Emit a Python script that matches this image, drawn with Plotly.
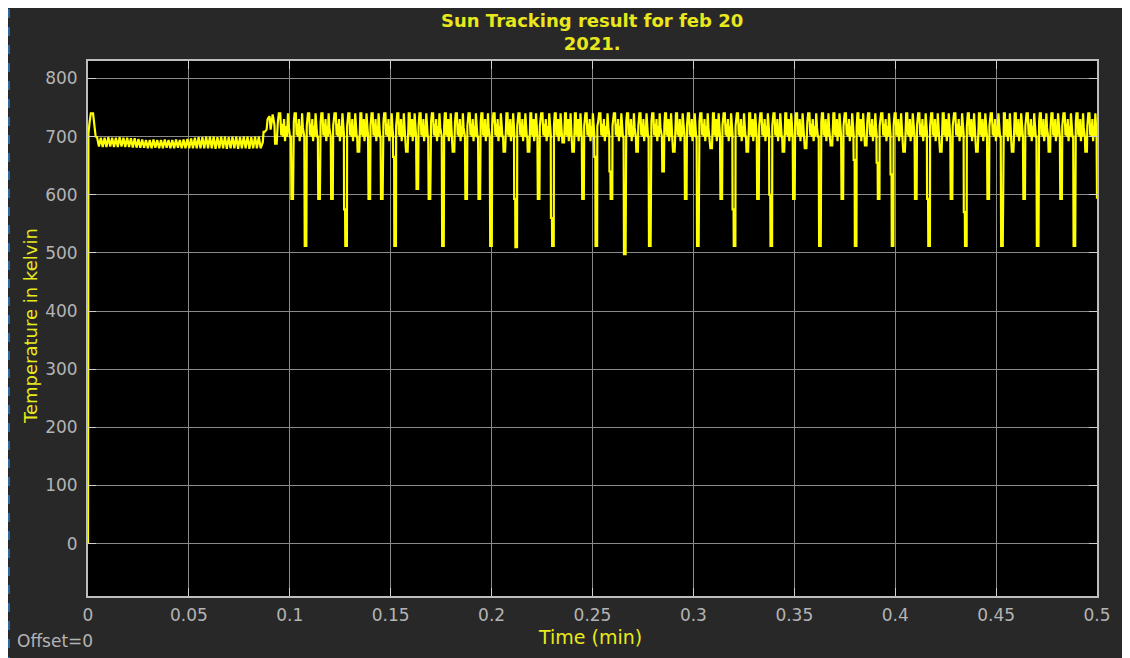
import plotly.graph_objects as go

# ---------------- data ----------------
x_ticks = [0, 0.05, 0.1, 0.15, 0.2, 0.25, 0.3, 0.35, 0.4, 0.45, 0.5]
x_tick_labels = ["0", "0.05", "0.1", "0.15", "0.2", "0.25", "0.3", "0.35", "0.4", "0.45", "0.5"]
y_ticks = [0, 100, 200, 300, 400, 500, 600, 700, 800]
y_tick_labels = ["0", "100", "200", "300", "400", "500", "600", "700", "800"]

# start-up transient (time in min, temperature in K)
start_t = [0.0, 0.0001, 0.0002, 0.0008, 0.0014, 0.0025, 0.0032, 0.0038]
start_v = [0, 435, 705, 725, 740, 740, 712, 700]

# settled band before tracking starts: alternating tooth highs / lows
band_start, band_end = 0.0045, 0.0865
band_hi = [699, 698, 698, 699, 698, 698, 699, 698, 698, 697, 697, 696,
           695, 694, 694, 695, 694, 694, 695, 694, 694, 695, 694, 695,
           696, 697, 698, 699, 699, 700,
           700, 700, 699, 700, 700, 699, 700, 700, 699, 700, 700, 699, 700, 700]
band_lo = [683, 682, 682, 683, 682, 682, 683, 682, 682, 681, 681, 681,
           681, 680, 680, 681, 680, 680, 681, 680, 680, 681, 680, 680,
           680, 680, 680, 680, 680, 680,
           680, 679, 680, 680, 679, 680, 680, 679, 680, 680, 679, 680, 680, 680]

# transition when tracking begins
trans_t = [0.0866, 0.0870, 0.0875, 0.0885, 0.0890, 0.0900, 0.0905, 0.0915, 0.0924]
trans_v = [690, 708, 708, 712, 730, 735, 712, 738, 720]

# downward spikes during tracking: time, bottom value
dip_t = [0.0931, 0.1012, 0.1078, 0.1145, 0.1209, 0.1279, 0.1340, 0.1394, 0.1456, 0.1522,
         0.1580, 0.1632, 0.1692, 0.1759, 0.1811, 0.1874, 0.1939, 0.1997, 0.2063, 0.2122,
         0.2183, 0.2233, 0.2304, 0.2355, 0.2404, 0.2453, 0.2519, 0.2594, 0.2660, 0.2721,
         0.2784, 0.2850, 0.2903, 0.2962, 0.3022, 0.3088, 0.3138, 0.3204, 0.3267, 0.3320,
         0.3386, 0.3446, 0.3498, 0.3556, 0.3627, 0.3684, 0.3738, 0.3804, 0.3854, 0.3918,
         0.3987, 0.4044, 0.4102, 0.4168, 0.4226, 0.4279, 0.4350, 0.4405, 0.4461, 0.4529,
         0.4582, 0.4639, 0.4706, 0.4764, 0.4822, 0.4888, 0.4946]
dip_v = [688, 593, 512, 593, 593, 512, 674, 593, 593, 512,
         674, 610, 593, 512, 674, 593, 593, 512, 674, 510,
         674, 593, 512, 690, 674, 593, 512, 593, 498, 674,
         512, 640, 674, 593, 512, 680, 593, 512, 674, 593,
         512, 674, 593, 680, 512, 685, 593, 512, 685, 593,
         512, 674, 593, 512, 674, 593, 512, 674, 593, 512,
         674, 593, 512, 674, 593, 512, 674]
# spikes that pause on a shelf on the way down
shelf_t = [0.1279, 0.1522, 0.2122, 0.2304, 0.2519, 0.2594, 0.3204, 0.3386, 0.3804, 0.3918,
           0.3987, 0.4168, 0.4350]
shelf_v = [575, 665, 593, 560, 665, 640, 575, 600, 660, 655, 635, 593, 570]

# typical ripple between two spikes (fraction of the gap, value)
cycle_f = [0.12, 0.18, 0.27, 0.33, 0.38, 0.44, 0.50, 0.56, 0.62, 0.68, 0.74, 0.80, 0.86]
cycle_v = [725, 740, 740, 702, 722, 700, 730, 692, 718, 700, 740, 715, 700]

end_t = [0.4998, 0.5]
end_v = [700, 593]

# ---------------- assemble polyline ----------------
T, V = list(start_t), list(start_v)
n = len(band_hi)
step = (band_end - band_start) / (2 * n)
for i in range(n):
    T.append(band_start + (2 * i) * step); V.append(band_hi[i])
    T.append(band_start + (2 * i + 1) * step); V.append(band_lo[i])
T += trans_t; V += trans_v

shelves = dict(zip(shelf_t, shelf_v))
for i, (td, vd) in enumerate(zip(dip_t, dip_v)):
    if td in shelves:
        s = shelves[td]
        T += [td - 0.0011, td - 0.0010, td - 0.0005, td - 0.0004, td + 0.0004, td + 0.0005]
        V += [700, s, s, vd, vd, 718]
    else:
        T += [td - 0.0006, td - 0.0004, td + 0.0004, td + 0.0006]
        V += [700, vd, vd, 718]
    a = td
    b = dip_t[i + 1] if i + 1 < len(dip_t) else 0.5008
    for f, cv in zip(cycle_f, cycle_v):
        tt = a + f * (b - a)
        if tt < end_t[0]:
            T.append(tt); V.append(cv)
T += end_t; V += end_v

# ---------------- figure ----------------
# the page puts the figure 8 px in from the window's top-left corner
OFF = 8
W, H = 1130, 658
PL, PR, PT, PB = 88, 1097, 61, 596          # plot box in window pixels
L, TOP = PL - OFF, PT - OFF
R, BOT = W - (PR - OFF), H - (PB - OFF)
pw, ph = W - L - R, H - TOP - BOT

def px(x):      # window pixel -> paper x
    return (x - PL) / pw

def py(y):      # window pixel -> paper y
    return (PB - y) / ph

yellow_txt = "#e8e81c"
grey_txt = "#b4b4b4"
font_family = "DejaVu Sans"

fig = go.Figure()
fig.add_trace(go.Scatter(x=T, y=V, mode="lines",
                         line=dict(color="#ffff00", width=2.2),
                         hoverinfo="skip", showlegend=False))

axis_common = dict(showgrid=True, gridcolor="#8a8a8a", gridwidth=1,
                   zeroline=False, showline=True, linecolor="#bdbdbd", linewidth=2,
                   mirror="ticks", ticks="inside", ticklen=8, tickcolor="#d0d0d0",
                   tickwidth=1,
                   tickfont=dict(family=font_family, size=17, color=grey_txt))

fig.update_layout(
    width=W, height=H,
    margin=dict(l=L, r=R, t=TOP, b=BOT, pad=0),
    paper_bgcolor="#282828", plot_bgcolor="#000000",
    xaxis=dict(range=[0, 0.5], tickvals=x_ticks, ticktext=x_tick_labels,
               ticklabelstandoff=3, **axis_common),
    yaxis=dict(range=[-90, 830], tickvals=y_ticks, ticktext=y_tick_labels,
               ticklabelstandoff=5, **axis_common),
    showlegend=False,
)

ann = [
    dict(text="<b>Sun Tracking result for feb 20<br>2021.</b>", x=px(592), y=py(8.2),
         yanchor="top", font=dict(size=18, color=yellow_txt, family=font_family)),
    dict(text="Time (min)", x=px(590), y=py(637),
         font=dict(size=19, color=yellow_txt, family=font_family)),
    dict(text="Temperature in kelvin", x=px(30), y=py(326), textangle=-90,
         font=dict(size=18, color=yellow_txt, family=font_family)),
    dict(text="Offset=0", x=px(15), y=py(641), xanchor="left",
         font=dict(size=17, color=grey_txt, family=font_family)),
]
for a in ann:
    a.setdefault("xanchor", "center")
    a.setdefault("yanchor", "middle")
    fig.add_annotation(xref="paper", yref="paper", showarrow=False, **a)

shapes = [
    dict(type="rect", x0=px(1127), x1=px(W + OFF), y0=py(H + OFF), y1=py(5),
         fillcolor="#3a3a3a", line=dict(width=0), layer="below"),
    dict(type="line", x0=px(9), x1=px(9), y0=py(H + OFF), y1=py(8),
         line=dict(color="#2a66a0", width=2, dash="dash")),
]
for s in shapes:
    fig.add_shape(xref="paper", yref="paper", **s)

fig.write_html("out.html")
